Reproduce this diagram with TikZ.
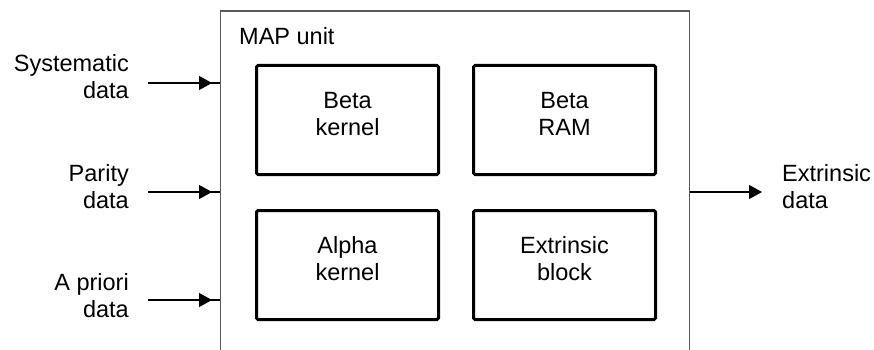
\documentclass[tikz,border=0pt]{standalone}
\usepackage{fontspec}
\setmainfont{Liberation Sans}
\usetikzlibrary{arrows.meta}
\begin{document}
\begin{tikzpicture}[x=1pt,y=-1pt,
  txt/.style={font=\fontsize{23.5}{27}\selectfont, inner sep=0pt},
  unit/.style={draw=black!65, line width=1.3pt, minimum width=469pt, minimum height=400pt, anchor=north west, inner sep=0pt},
  block/.style={draw=black, line width=3pt, rounded corners=1.5pt, minimum width=182pt, minimum height=109pt, anchor=north west, inner sep=0pt},
  lbl/.style={txt, align=right, anchor=base east},
  rlbl/.style={txt, align=left, anchor=base west},
  blbl/.style={txt, align=center, anchor=base},
  conn/.style={line width=1.2pt},
  arr/.style={conn, -{Triangle[length=13pt,width=14pt]}}]
\useasboundingbox (0,0) rectangle (874,350);
\clip (0,0) rectangle (874,350);
\fill[white] (0,0) rectangle (874,350);

% MAP unit
\node[unit] (map) at (220,10.5) {};
\node[txt, anchor=base west] (maplbl) at (239,45) {MAP unit};

% inner blocks
\node[block] (bk) at (255,64) {};
\node[block] (br) at (472,64) {};
\node[block] (ak) at (255,209) {};
\node[block] (eb) at (472,209) {};
\node[blbl] (bkt) at ([yshift=-71pt]bk.north) {Beta\\kernel};
\node[blbl] (brt) at ([yshift=-71pt]br.north) {Beta\\RAM};
\node[blbl] (akt) at ([yshift=-71pt]ak.north) {Alpha\\kernel};
\node[blbl] (ebt) at ([yshift=-71pt]eb.north) {Extrinsic\\block};

% input labels (base = last line)
\node[lbl] (sys) at (129,98.5) {Systematic\\data};
\node[lbl] (par) at (129,208.5) {Parity\\data};
\node[lbl] (apr) at (129,317) {A priori\\data};
\node[rlbl] (ext) at (782,208.5) {Extrinsic\\data};

% connector ends
\coordinate (s0) at (148,83);
\coordinate (p0) at (148,192);
\coordinate (a0) at (148,300);
\coordinate (s1) at (map.west |- s0);
\coordinate (p1) at (map.west |- p0);
\coordinate (a1) at (map.west |- a0);
\coordinate (e0) at (map.east |- 0,192);
\coordinate (e1) at (762,192);

\draw[conn] (s0) -- (s1);
\draw[conn] (p0) -- (p1);
\draw[conn] (a0) -- (a1);
\draw[arr, shorten >=8pt] (s0) -- (s1);
\draw[arr, shorten >=8pt] (p0) -- (p1);
\draw[arr, shorten >=8pt] (a0) -- (a1);
\draw[arr] (e0) -- (e1);
\end{tikzpicture}
\end{document}
